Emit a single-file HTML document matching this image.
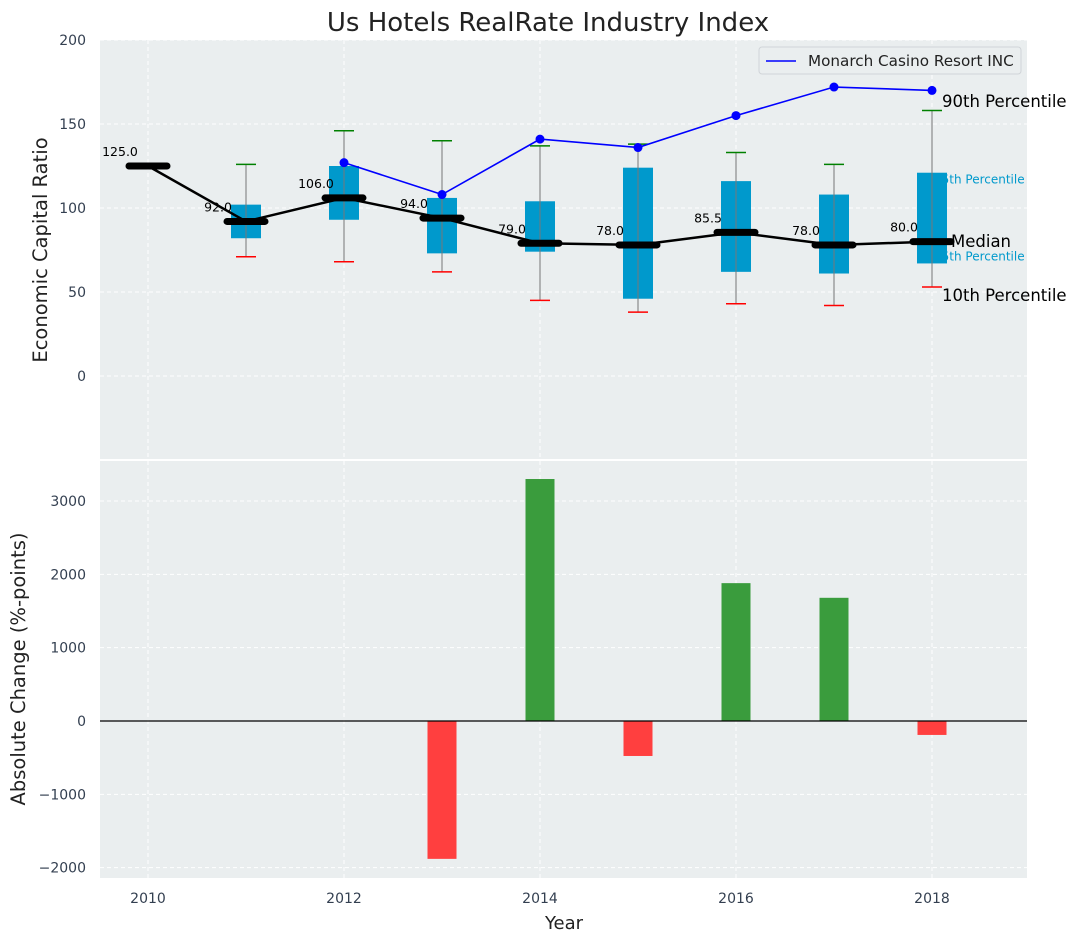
<!DOCTYPE html>
<html><head><meta charset="utf-8"><style>
body{margin:0;background:#fff;}
svg{font-family:"DejaVu Sans","Liberation Sans",sans-serif;}
</style></head><body>
<svg id="chart" width="1077" height="942" viewBox="0 0 1077 942" xmlns="http://www.w3.org/2000/svg">
<g id="g"></g>
</svg>
<script>
const boxYears=[2011,2012,2013,2014,2015,2016,2017,2018];
const whisLo=[71,68,62,45,38,43,42,53];
const q1=[82,93,73,74,46,62,61,67];
const q3=[102,125,106,104,124,116,108,121];
const whisHi=[126,146,140,137,138,133,126,158];
const medYears=[2010,2011,2012,2013,2014,2015,2016,2017,2018];
const medians=[125,92,106,94,79,78,85.5,78,80];
const medLabels=["125.0","92.0","106.0","94.0","79.0","78.0","85.5","78.0","80.0"];
const monYears=[2012,2013,2014,2015,2016,2017,2018];
const monVals=[127,108,141,136,155,172,170];
const barYears=[2013,2014,2015,2016,2017,2018];
const barVals=[-1880,3300,-477,1880,1680,-190];
const topTicks=[0,50,100,150,200];
const botTicks=[-2000,-1000,0,1000,2000,3000];
const xTicks=[2010,2012,2014,2016,2018];

const NS="http://www.w3.org/2000/svg";
const g=document.getElementById('g');
function el(t,a,txt){const e=document.createElementNS(NS,t);for(const k in a)e.setAttribute(k,a[k]);if(txt!==undefined)e.textContent=txt;g.appendChild(e);return e;}
const X=v=>148+(v-2010)*98;
const Y1=v=>376-v*1.68;
const Y2=v=>721-v*0.07333;
const L=100,R=1027;

let e;
e=el('rect',{x:L,y:40,width:R-L,height:419,fill:'#eaeeef'});


e=el('rect',{x:L,y:461,width:R-L,height:417,fill:'#eaeeef'});



for(const t of xTicks){
  el('line',{x1:X(t),x2:X(t),y1:40,y2:459,stroke:'#fff','stroke-dasharray':'4,3','stroke-width':1});
  el('line',{x1:X(t),x2:X(t),y1:461,y2:878,stroke:'#fff','stroke-dasharray':'4,3','stroke-width':1});
  e=el('text',{x:X(t),y:903,'font-size':14,fill:'#333f50','text-anchor':'middle'},String(t));
  
  
}
for(const t of topTicks){
  el('line',{x1:L,x2:R,y1:Y1(t),y2:Y1(t),stroke:'#fff','stroke-dasharray':'4,3','stroke-width':1});
  e=el('text',{x:86,y:Y1(t)+5,'font-size':14,fill:'#333f50','text-anchor':'end'},String(t));
  
  
}
for(const t of botTicks){
  el('line',{x1:L,x2:R,y1:Y2(t),y2:Y2(t),stroke:'#fff','stroke-dasharray':'4,3','stroke-width':1});
  e=el('text',{x:86,y:Y2(t)+5,'font-size':14,fill:'#333f50','text-anchor':'end'},t<0?'\u2212'+Math.abs(t):String(t));
  
  
}

const lx=X(2018)+2;
e=el('text',{x:lx,y:Y1(117)+4,'font-size':12,fill:'#0099cc'},'75th Percentile');


e=el('text',{x:lx,y:Y1(71)+4,'font-size':12,fill:'#0099cc'},'25th Percentile');



boxYears.forEach((yr,i)=>{
  const x=X(yr);
  e=el('rect',{x:x-15,y:Y1(q3[i]),width:30,height:Y1(q1[i])-Y1(q3[i]),fill:'#0099cc'});
  
  
  e=el('line',{x1:x,x2:x,y1:Y1(whisHi[i]),y2:Y1(whisLo[i]),stroke:'#777','stroke-width':1});
  
  
  e=el('line',{x1:x-10,x2:x+10,y1:Y1(whisHi[i]),y2:Y1(whisHi[i]),stroke:'green','stroke-width':1.5});
  
  
  e=el('line',{x1:x-10,x2:x+10,y1:Y1(whisLo[i]),y2:Y1(whisLo[i]),stroke:'red','stroke-width':1.5});
  
  
});

e=el('polyline',{points:medYears.map((y,i)=>X(y)+','+Y1(medians[i])).join(' '),fill:'none',stroke:'#000','stroke-width':2.5});


medYears.forEach((yr,i)=>{
  const x=X(yr),y=Y1(medians[i]);
  e=el('line',{x1:x-19,x2:x+19,y1:y,y2:y,stroke:'#000','stroke-width':7,'stroke-linecap':'round'});
  
  
  e=el('text',{x:x-28,y:y-10,'font-size':12.5,fill:'#000','text-anchor':'middle'},medLabels[i]);
  
  
});

e=el('polyline',{points:monYears.map((y,i)=>X(y)+','+Y1(monVals[i])).join(' '),fill:'none',stroke:'#0000ff','stroke-width':1.6});


monYears.forEach((yr,i)=>{
  e=el('circle',{cx:X(yr),cy:Y1(monVals[i]),r:4.5,fill:'#0000ff'});
  
  
});

e=el('text',{x:942,y:107,'font-size':16.5,fill:'#000'},'90th Percentile');


e=el('text',{x:951,y:247,'font-size':16.5,fill:'#000'},'Median');


e=el('text',{x:942,y:301,'font-size':16.5,fill:'#000'},'10th Percentile');



e=el('rect',{x:759,y:47,width:262,height:27,rx:3,fill:'#eaeeef',stroke:'#d0d4d8'});


el('line',{x1:766,x2:796,y1:61,y2:61,stroke:'#0000ff','stroke-width':1.6});
e=el('text',{x:808,y:66,'font-size':15.2,fill:'#222'},'Monarch Casino Resort INC');



barVals.forEach((v,i)=>{
  const x=X(barYears[i]);
  const y0=Y2(0),y=Y2(v);
  e=el('rect',{x:x-14.5,y:Math.min(y,y0),width:29,height:Math.abs(y-y0),fill:v>=0?'#3a9c3d':'#ff3f3f'});
  
  
});
e=el('line',{x1:L,x2:R,y1:Y2(0),y2:Y2(0),stroke:'#000','stroke-width':1.2});



e=el('text',{x:548,y:31,'font-size':26,fill:'#222','text-anchor':'middle'},'Us Hotels RealRate Industry Index');


e=el('text',{x:564,y:929,'font-size':18,fill:'#222','text-anchor':'middle'},'Year');


e=el('text',{x:0,y:0,'font-size':19.5,fill:'#222','text-anchor':'middle',transform:'translate(47,250) rotate(-90)'},'Economic Capital Ratio');


e=el('text',{x:0,y:0,'font-size':19.5,fill:'#222','text-anchor':'middle',transform:'translate(25,669) rotate(-90)'},'Absolute Change (%-points)');


</script>
</body></html>
